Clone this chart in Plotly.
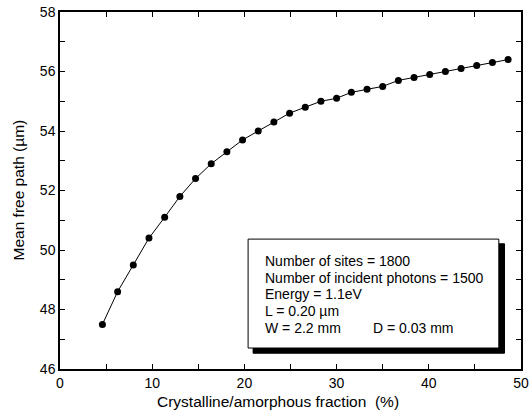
import plotly.graph_objects as go

fraction = [4.6, 6.25, 7.95, 9.65, 11.35, 13.0, 14.7, 16.4, 18.1, 19.8, 21.5, 23.2, 24.9,
            26.6, 28.3, 30.0, 31.6, 33.3, 35.0, 36.7, 38.4, 40.1, 41.8, 43.5, 45.2, 46.9, 48.6]
mfp = [47.5, 48.6, 49.5, 50.4, 51.1, 51.8, 52.4, 52.9, 53.3, 53.7, 54.0, 54.3, 54.6,
       54.8, 55.0, 55.1, 55.3, 55.4, 55.5, 55.7, 55.8, 55.9, 56.0, 56.1, 56.2, 56.3, 56.4]

info_lines = [
    "Number of sites = 1800",
    "Number of incident photons = 1500",
    "Energy = 1.1eV",
    "L = 0.20 \u00b5m",
    "W = 2.2 mm",
]
info_extra = "D = 0.03 mm"
x_title = "Crystalline/amorphous fraction &nbsp;(%)"
y_title = "Mean free path (\u00b5m)"

FONT = "Liberation Sans, Arial, Helvetica, sans-serif"

# plot area in pixels
L, R, T, B = 60, 521.5, 12, 369.3
W = 531
H = 417


def px(xp):
    return (xp - L) / (R - L)


def py(yp):
    return (B - yp) / (B - T)


fig = go.Figure()
fig.add_trace(go.Scatter(
    x=fraction, y=mfp, mode="lines+markers",
    line=dict(color="black", width=1),
    marker=dict(color="black", size=7, symbol="circle"),
    showlegend=False, cliponaxis=False, hoverinfo="skip",
))

axis_common = dict(
    showline=True, linecolor="black", linewidth=1.5, mirror="allticks",
    ticks="inside", ticklen=5, tickwidth=1, tickcolor="black",
    showgrid=False, zeroline=False, automargin=False,
    tickfont=dict(family=FONT, size=14, color="black"),
)

fig.update_xaxes(range=[0, 50], dtick=10, tick0=0,
                 minor=dict(dtick=5, ticks="inside", ticklen=5, tickcolor="black", tickwidth=1),
                 **axis_common)
fig.update_yaxes(range=[46, 58], dtick=2, tick0=46,
                 minor=dict(dtick=1, ticks="inside", ticklen=5, tickcolor="black", tickwidth=1),
                 **axis_common)

# axis titles
fig.add_annotation(xref="paper", yref="paper", x=px(278), y=py(402), xanchor="center",
                   yanchor="middle", text=x_title, showarrow=False,
                   font=dict(family=FONT, size=15.5, color="black"))
fig.add_annotation(xref="paper", yref="paper", x=px(18), y=py(190.6), xanchor="center",
                   yanchor="middle", text=y_title, showarrow=False, textangle=-90,
                   font=dict(family=FONT, size=15.5, color="black"))

# shadow and box
fig.add_shape(type="rect", xref="paper", yref="paper", x0=px(253.3), x1=px(505), y0=py(353.5), y1=py(244),
              fillcolor="black", line=dict(color="black", width=1), layer="above")
fig.add_shape(type="rect", xref="paper", yref="paper", x0=px(248.3), x1=px(499.3), y0=py(348.3), y1=py(239.3),
              fillcolor="white", line=dict(color="black", width=1), layer="above")

line_y = [261, 277.75, 294.5, 311.25, 328]
for txt, yy in zip(info_lines, line_y):
    fig.add_annotation(xref="paper", yref="paper", x=px(263.5), y=py(yy), xanchor="left",
                       yanchor="middle", text=txt, showarrow=False, align="left",
                       font=dict(family=FONT, size=14, color="black"))
fig.add_annotation(xref="paper", yref="paper", x=px(371.5), y=py(line_y[-1]), xanchor="left",
                   yanchor="middle", text=info_extra, showarrow=False, align="left",
                   font=dict(family=FONT, size=14, color="black"))

fig.update_layout(
    width=W, height=H,
    margin=dict(l=L, r=W - R, t=T, b=H - B),
    paper_bgcolor="white", plot_bgcolor="white",
    font=dict(family=FONT, color="black"),
)

fig.write_html("out.html", config={"displayModeBar": False},
               post_script="document.body.style.margin='0';document.body.style.overflow='hidden';")
